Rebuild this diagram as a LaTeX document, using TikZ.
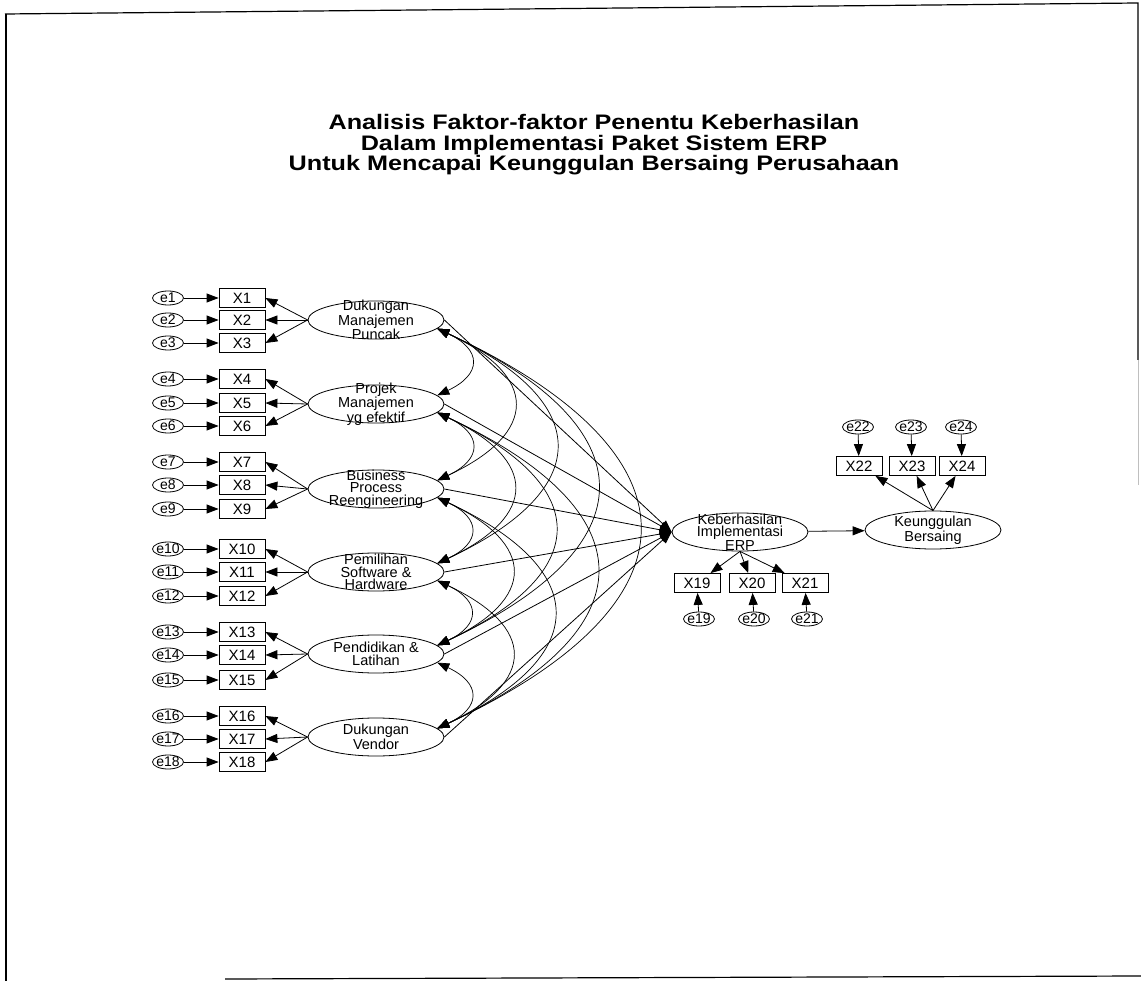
\documentclass[tikz,border=0pt]{standalone}
\usepackage{fontspec}
\setmainfont{Liberation Sans}
\newfontfamily\titlefont[FakeStretch=1.2]{Liberation Sans}
\usetikzlibrary{shapes.geometric,arrows.meta}

\begin{document}
\begin{tikzpicture}[
        x=1pt, y=-1pt,
        box/.style={
            draw,
            rectangle,
            line width=0.8pt,
            minimum width=46pt,
            minimum height=19pt,
            inner sep=0pt,
            font=\fontsize{15}{15}\selectfont
        },
        err/.style={draw, ellipse, line width=0.8pt, minimum width=31pt, minimum height=14pt, inner sep=0pt},
        lat/.style={draw, ellipse, line width=0.8pt, minimum width=136pt, minimum height=38pt, inner sep=0pt},
        etxt/.style={inner sep=0pt, font=\fontsize{14}{14}\selectfont},
        ltxt/.style={inner sep=0pt, align=center, font=\fontsize{14.5}{12.5}\selectfont},
        arr/.style={-{Triangle[length=12pt,width=9pt]}, line width=0.8pt},
        cov/.style={{Triangle[length=12pt,width=9pt]}-{Triangle[length=12pt,width=9pt]}, line width=0.7pt}
    ]
        \useasboundingbox (0,0) rectangle (1141,981);

        % Scanned page frame
        \draw[line width=1.2pt] (5,14) -- (1138,3) -- (1138,360);
        \draw[line width=0.8pt, black!25] (1138,360) -- (1138,485);
        \draw[line width=1.2pt] (6,14) -- (6,981);
        \draw[line width=1.2pt] (225,979) -- (1141,976);

        % Title
        \node[font=\titlefont\bfseries\fontsize{21}{20.5}\selectfont, align=center] (title) at (594,145) {
            Analisis Faktor-faktor Penentu Keberhasilan\\
            Dalam Implementasi Paket Sistem ERP\\
            Untuk Mencapai Keunggulan Bersaing Perusahaan
        };

        % Exogenous latent variables
        \foreach \i/\y/\t in {1/320/{Dukungan\\Manajemen\\Puncak},
                              2/404/{Projek\\Manajemen\\yg efektif},
                              3/489/{Business\\Process\\Reengineering},
                              4/572/{Pemilihan\\Software \&\\Hardware},
                              5/654/{Pendidikan \&\\Latihan},
                              6/737/{Dukungan\\Vendor}} {
            \node[lat] (l\i) at (376,\y) {};
            \node[ltxt] (lt\i) at (l\i) {\t};
        }

        % Indicators X1..X18 with their errors
        \foreach \n/\y/\l in {1/298/1,2/320/1,3/343/1,
                              4/379/2,5/403/2,6/426/2,
                              7/462/3,8/485/3,9/509/3,
                              10/549/4,11/572/4,12/596/4,
                              13/632/5,14/655/5,15/680/5,
                              16/716/6,17/739/6,18/762/6} {
            \node[box] (x\n) at (242,\y) {X\n};
            \node[err] (e\n) at (168,\y) {};
            \node[etxt] (et\n) at (e\n) {e\n};
            \draw[arr] (e\n) -- (x\n);
            \draw[arr] (l\l.west) -- (x\n.east);
        }

        % Endogenous latent variables
        \node[lat] (k) at (740,532) {};
        \node[ltxt] (kt) at (k) {Keberhasilan\\Implementasi\\ERP};
        \node[lat] (kb) at (933,530) {};
        \node[ltxt] (kbt) at (kb) {Keunggulan\\Bersaing};
        \draw[arr] (k) -- (kb);

        % Structural paths
        \foreach \i in {1,...,6} {
            \draw[arr] (l\i.east) -- (k.west);
        }

        % Covariances between exogenous variables
        \foreach \i in {1,...,5} {
            \pgfmathtruncatemacro{\k}{\i+1}
            \foreach \j in {\k,...,6} {
                \draw[cov] (l\i.-8) to[bend left=65, looseness=1.9] (l\j.8);
            }
        }

        % Indicators below Keberhasilan
        \foreach \n/\x in {19/697,20/752,21/805} {
            \node[box] (x\n) at (\x,583) {X\n};
            \node[err] (e\n) at (\x+2,619) {};
            \node[etxt] (et\n) at (e\n) {e\n};
            \draw[arr] (e\n) -- (x\n);
            \draw[arr] (k.south) -- (x\n);
        }

        % Indicators above Keunggulan
        \foreach \n/\x in {22/859,23/912,24/962} {
            \node[box] (x\n) at (\x,466) {X\n};
            \node[err] (e\n) at (\x-1,427) {};
            \node[etxt] (et\n) at (e\n) {e\n};
            \draw[arr] (e\n) -- (x\n);
            \draw[arr] (kb.north) -- (x\n);
        }
    \end{tikzpicture}
\end{document}
